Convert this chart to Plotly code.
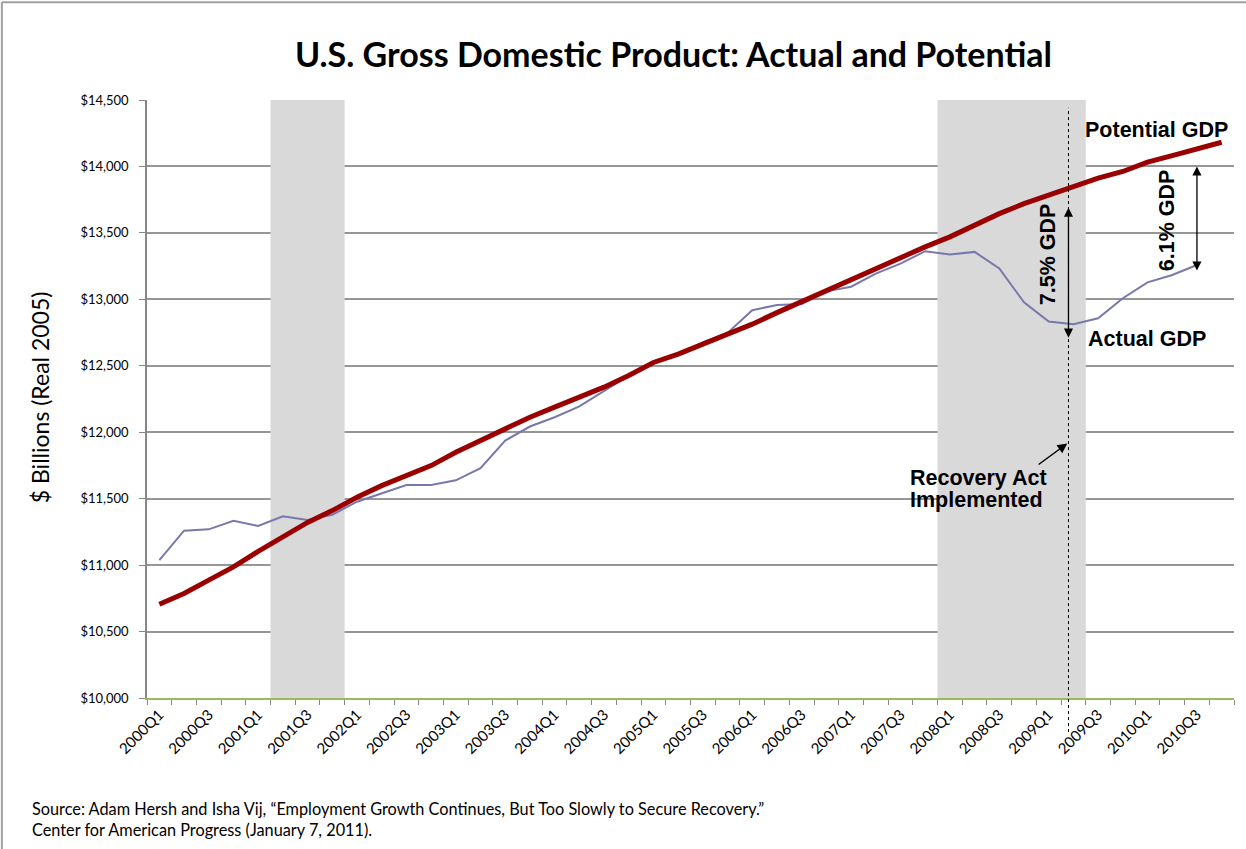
import plotly.graph_objects as go

# ---------------- data ----------------
quarters = [f"{y}Q{q}" for y in range(2000, 2011) for q in range(1, 5)]

potential_gdp = [10706, 10786, 10887, 10987, 11103, 11214, 11321, 11410,
                 11510, 11598, 11674, 11749, 11849, 11937, 12030, 12113,
                 12189, 12264, 12339, 12427, 12525, 12588, 12663, 12738,
                 12813, 12900, 12983, 13070, 13153, 13234, 13317, 13395,
                 13470, 13557, 13645, 13720, 13782, 13852, 13912, 13962,
                 14032, 14082, 14132, 14182]

actual_gdp = [11038, 11259, 11269, 11334, 11294, 11367, 11339, 11379,
              11477, 11538, 11603, 11603, 11638, 11730, 11937, 12043,
              12113, 12194, 12312, 12425, 12525, 12583, 12676, 12747,
              12918, 12958, 12965, 13060, 13095, 13194, 13269, 13362,
              13337, 13357, 13232, 12977, 12833, 12812, 12857, 13008,
              13128, 13183, 13258]

# recessions (first and last quarter, inclusive)
recessions = [("2001Q2", "2001Q4"), ("2008Q1", "2009Q2")]

y_ticks = [10000, 10500, 11000, 11500, 12000, 12500, 13000, 13500, 14000, 14500]
y_ticklabels = [f"${v:,}" for v in y_ticks]
x_tick_idx = list(range(0, len(quarters), 2))
x_ticklabels = [quarters[i] for i in x_tick_idx]

recovery_act_x = 36.8          # position of "Recovery Act Implemented" line (category index)
gap_2009 = (12700, 13690)       # 7.5% GDP arrow span
gap_2010 = (13205, 14000)       # 6.1% GDP arrow span

# ---------------- figure ----------------
idx = list(range(len(quarters)))
fig = go.Figure()

fig.add_trace(go.Scatter(x=idx[:len(actual_gdp)], y=actual_gdp, mode="lines",
                         line=dict(color="#7878AC", width=2),
                         name="Actual GDP", showlegend=False))
fig.add_trace(go.Scatter(x=idx, y=potential_gdp, mode="lines",
                         line=dict(color="#9A0000", width=5),
                         name="Potential GDP", showlegend=False))

shapes = []
for a, b in recessions:
    shapes.append(dict(type="rect", xref="x", yref="y",
                       x0=quarters.index(a) - 0.5, x1=quarters.index(b) + 0.5,
                       y0=10000, y1=14500, fillcolor="#D9D9D9",
                       line=dict(width=0), layer="between"))
# Recovery act dotted line
shapes.append(dict(type="line", xref="x", yref="paper",
                   x0=recovery_act_x, x1=recovery_act_x, y0=-0.057, y1=0.987,
                   line=dict(color="#000000", width=1, dash="dot"), layer="above"))
# figure border (left/top)
shapes.append(dict(type="line", xref="paper", yref="paper", x0=-0.1335, x1=1.02,
                   y0=1.1635, y1=1.1635, line=dict(color="#A0A0A0", width=2)))
shapes.append(dict(type="line", xref="paper", yref="paper", x0=-0.1335, x1=-0.1335,
                   y0=-0.26, y1=1.1635, line=dict(color="#A0A0A0", width=2)))

anno_font = dict(family="Liberation Sans, Arial, sans-serif", size=21.5, color="#000000")
calibri = "Lato, Carlito, Calibri, sans-serif"

annotations = [
    dict(x=40.35, y=14274, xref="x", yref="y", text="<b>Potential GDP</b>",
         showarrow=False, font=anno_font),
    dict(x=39.96, y=12700, xref="x", yref="y", text="<b>Actual GDP</b>",
         showarrow=False, font=anno_font),
    dict(x=35.97, y=13339, xref="x", yref="y", text="<b>7.5% GDP</b>",
         showarrow=False, textangle=-90, font=anno_font),
    dict(x=40.8, y=13598, xref="x", yref="y", text="<b>6.1% GDP</b>",
         showarrow=False, textangle=-90, font=anno_font),
    dict(x=30.3, y=11659, xref="x", yref="y", text="<b>Recovery Act</b>",
         showarrow=False, xanchor="left", font=anno_font),
    dict(x=30.3, y=11489, xref="x", yref="y", text="<b>Implemented</b>",
         showarrow=False, xanchor="left", font=anno_font),
    # arrows
    dict(x=recovery_act_x, y=gap_2009[1], ax=recovery_act_x, ay=gap_2009[0],
         xref="x", yref="y", axref="x", ayref="y", text="", showarrow=True,
         arrowhead=2, arrowside="end+start", arrowsize=1.4, arrowwidth=1.3,
         arrowcolor="#000000", standoff=0, startstandoff=0),
    dict(x=42, y=gap_2010[1], ax=42, ay=gap_2010[0],
         xref="x", yref="y", axref="x", ayref="y", text="", showarrow=True,
         arrowhead=2, arrowside="end+start", arrowsize=1.4, arrowwidth=1.3,
         arrowcolor="#000000", standoff=0, startstandoff=0),
    dict(x=36.75, y=11915, ax=35.53, ay=11749,
         xref="x", yref="y", axref="x", ayref="y", text="", showarrow=True,
         arrowhead=2, arrowsize=1.3, arrowwidth=1.5, arrowcolor="#000000"),
    # y axis title
    dict(x=-0.0984, y=0.503, xref="paper", yref="paper", xanchor="center", yanchor="middle",
         text="$ Billions (Real 2005)", textangle=-90, showarrow=False,
         font=dict(family=calibri, size=23, color="#000000")),
    # source
    dict(x=-0.1076, y=-0.184, xref="paper", yref="paper", xanchor="left", yanchor="middle",
         text="Source: Adam Hersh and Isha Vij, \u201cEmployment Growth Continues, But Too Slowly to Secure Recovery.\u201d",
         showarrow=False, font=dict(family=calibri, size=16.3, color="#000000")),
    dict(x=-0.1076, y=-0.2207, xref="paper", yref="paper", xanchor="left", yanchor="middle",
         text="Center for American Progress (January 7, 2011).",
         showarrow=False, font=dict(family=calibri, size=16.3, color="#000000")),
]

fig.update_layout(
    width=1246, height=849,
    margin=dict(l=147, r=12, t=100, b=151),
    paper_bgcolor="#FFFFFF", plot_bgcolor="#FFFFFF",
    title=dict(text="<b>U.S. Gross Domestic Product: Actual and Potential</b>",
               x=0.5405, xanchor="center", y=0.935, yanchor="middle",
               font=dict(family=calibri, size=34, color="#000000")),
    shapes=shapes, annotations=annotations, showlegend=False,
)

fig.update_xaxes(
    range=[-0.5, len(quarters) - 0.5],
    tickmode="array", tickvals=x_tick_idx, ticktext=x_ticklabels,
    tickangle=-45, ticks="", showgrid=False, zeroline=False,
    showline=True, linecolor="#9BBB59", linewidth=2,
    tickfont=dict(family=calibri, size=15, color="#000000"),
    minor=dict(tickmode="linear", tick0=-0.5, dtick=1, ticks="outside",
               ticklen=5, tickcolor="#868686", tickwidth=1, showgrid=False),
)
fig.update_yaxes(
    range=[10000, 14500], tickmode="array", tickvals=y_ticks, ticktext=y_ticklabels,
    showgrid=True, gridcolor="#969696", gridwidth=1.5, zeroline=False,
    showline=True, linecolor="#868686", linewidth=1.5,
    ticks="outside", ticklen=6, tickcolor="#868686", ticklabelstandoff=8,
    tickfont=dict(family=calibri, size=13, color="#000000"),
)

fig.write_html("out.html", config={"displayModeBar": False},
               post_script="document.body.style.margin='0';")
